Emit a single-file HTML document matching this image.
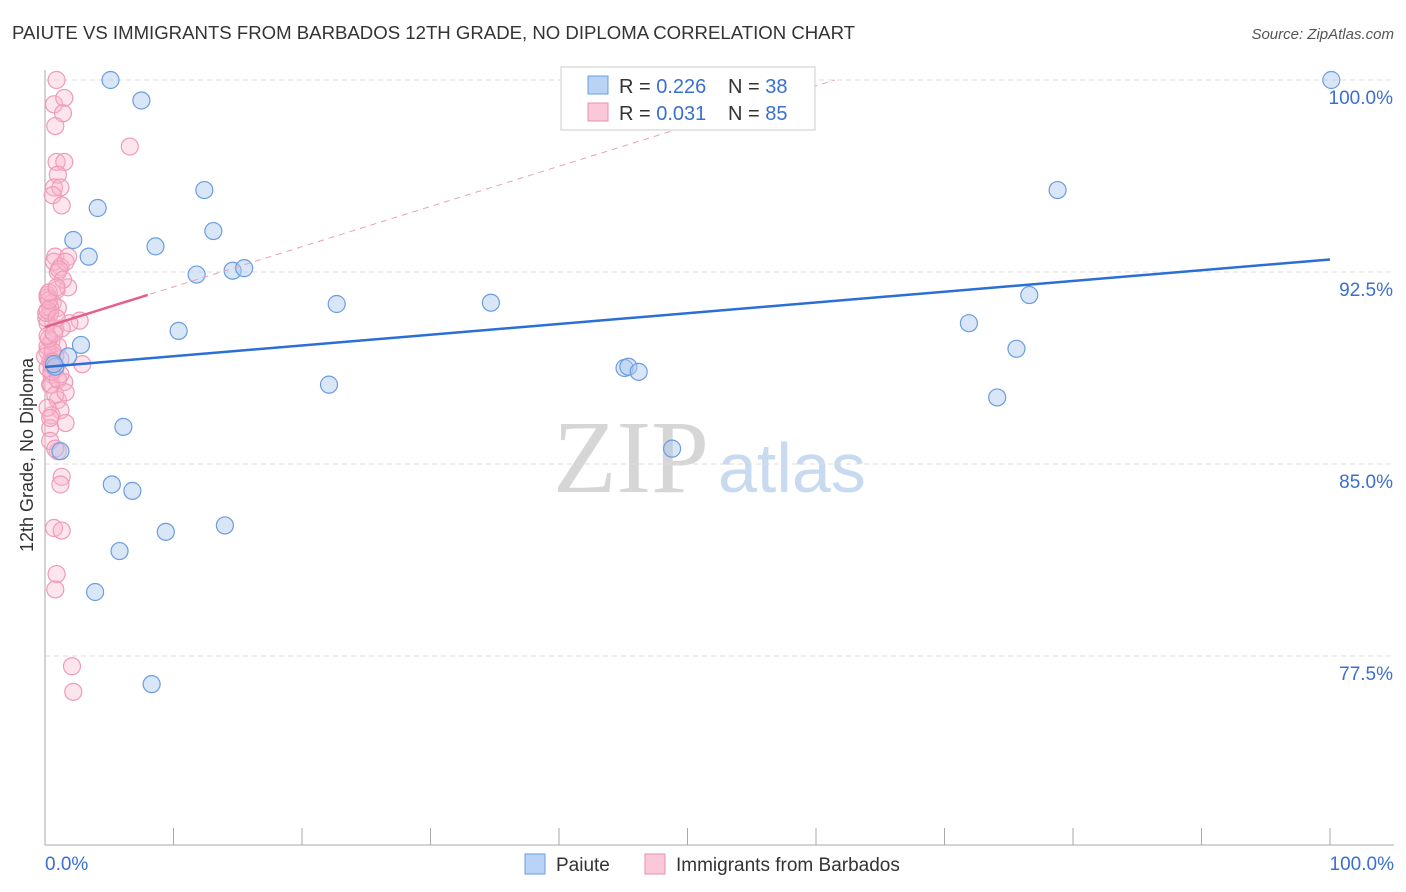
<!DOCTYPE html>
<html><head><meta charset="utf-8"><style>
body{margin:0;background:#fff;font-family:"Liberation Sans",sans-serif;}
#c{position:absolute;left:0;top:0;}
</style></head><body>
<svg id="c" width="1406" height="892" xmlns="http://www.w3.org/2000/svg">
<text x="12" y="39" font-size="18.6" fill="#333">PAIUTE VS IMMIGRANTS FROM BARBADOS 12TH GRADE, NO DIPLOMA CORRELATION CHART</text>
<text x="1394" y="39" font-size="15" fill="#555" text-anchor="end" font-style="italic">Source: ZipAtlas.com</text>
<text x="33" y="455" font-size="18" fill="#333" text-anchor="middle" transform="rotate(-90 33 455)">12th Grade, No Diploma</text>
<text x="553" y="492" font-size="104" fill="#d6d6d6" font-family="Liberation Serif,serif">ZIP</text>
<text x="718" y="492" font-size="70" fill="#c8daf0">atlas</text>
<g id="grid"></g><g id="pts"></g><g id="lines"></g>
<g>
<rect x="561" y="67" width="254" height="63" fill="#fff" stroke="#ccc"/>
<rect x="588" y="76" width="20" height="18" fill="#b8d3f5" stroke="#6a9de0"/>
<rect x="588" y="103" width="20" height="18" fill="#fac8d8" stroke="#e890ae"/>
<text x="619" y="93" font-size="20" fill="#333">R = <tspan fill="#3a6fd0">0.226</tspan></text>
<text x="728" y="93" font-size="20" fill="#333">N = <tspan fill="#3a6fd0">38</tspan></text>
<text x="619" y="120" font-size="20" fill="#333">R = <tspan fill="#3a6fd0">0.031</tspan></text>
<text x="728" y="120" font-size="20" fill="#333">N = <tspan fill="#3a6fd0">85</tspan></text>
</g>
<g>
<rect x="525" y="854" width="20" height="20" fill="#b8d3f5" stroke="#6a9de0"/>
<text x="556" y="871" font-size="19" fill="#333">Paiute</text>
<rect x="645" y="854" width="20" height="20" fill="#fac8d8" stroke="#e890ae"/>
<text x="676" y="871" font-size="19" fill="#333">Immigrants from Barbados</text>
</g>
</svg>
<script>
const yTicks=[100,92.5,85,77.5];
const yTickLabels=["100.0%","92.5%","85.0%","77.5%"];
const xTickLabels=["0.0%","100.0%"];
const blueX=[5.1,7.5,12.4,4.1,13.1,2.2,8.6,3.4,11.8,14.6,15.5,22.7,34.7,10.4,2.8,1.8,0.8,22.1,6.1,1.2,5.2,6.8,9.4,14.0,5.8,3.9,8.3,45.1,45.4,46.2,48.8,100.1,78.8,76.6,71.9,75.6,74.1,0.7];
const blueY=[100,99.2,95.7,95.0,94.1,93.75,93.5,93.1,92.4,92.55,92.65,91.25,91.3,90.2,89.65,89.2,88.8,88.1,86.45,85.5,84.2,83.95,82.35,82.6,81.6,80.0,76.4,88.75,88.8,88.6,85.6,100,95.7,91.6,90.5,89.5,87.6,88.9];
const pinkX=[0.9,0.7,1.5,1.4,0.8,6.6,0.9,1.5,1.0,0.7,1.2,0.6,1.3,0.8,1.8,1.2,0.7,1.0,1.6,0.9,1.8,0.2,0.6,1.0,0.4,0.2,0.8,2.7,1.9,0.5,1.0,0.2,0.8,0.4,1.2,0.2,0.5,0.8,2.9,1.5,0.4,1.0,1.2,0.5,1.6,0.4,1.0,1.3,1.2,0.7,1.3,0.9,0.8,2.1,2.2,0.2,0.1,0.4,1.3,0.2,0.0,0.5,0.1,0.8,0.2,0.4,0.8,1.2,0.2,0.6,0.3,1.1,0.5,0.9,0.3,1.4,0.6,0.2,1.0,0.4,0.7,0.3,1.6,0.5,0.9];
const pinkY=[100,99.05,99.3,98.7,98.2,97.4,96.8,96.8,96.3,95.8,95.8,95.5,95.1,93.1,93.1,92.7,92.9,92.5,92.9,91.8,91.9,91.6,91.3,91.1,90.9,90.5,90.3,90.6,90.5,89.8,89.6,89.4,89.2,89.0,89.1,88.75,88.5,88.7,88.9,88.2,88.1,87.5,87.1,86.9,86.6,86.4,85.5,84.5,84.2,82.5,82.4,80.7,80.1,77.1,76.1,91.5,90.7,91.1,90.3,89.6,89.2,88.1,90.9,87.7,87.2,85.9,85.6,88.5,91.0,89.4,91.4,92.6,88.6,90.7,89.9,92.2,89.0,90.0,88.3,86.8,90.1,91.7,87.8,88.9,91.9];
const blueTrend=[88.79,92.99];
const pinkTrend=[90.35,8.0];
const X=v=>45+v/100*1285, Y=v=>80+(100-v)/7.5*192;
const NS="http://www.w3.org/2000/svg";
function mk(t,a,p){const e=document.createElementNS(NS,t);for(const k in a)e.setAttribute(k,a[k]);document.getElementById(p).appendChild(e);return e;}
yTicks.forEach((t,i)=>{
 const l=mk('line',{x1:45,x2:1394,y1:Y(t),y2:Y(t),stroke:'#ddd','stroke-dasharray':'5,4'},'grid');
 
 
 const tx=mk('text',{x:1393,y:Y(t)+24,'font-size':19,fill:'#3a6fd0','text-anchor':'end'},'grid');tx.textContent=yTickLabels[i];
 
 
});
const ax=mk('line',{x1:45,x2:45,y1:70,y2:845,stroke:'#aaa'},'grid');


const bx=mk('line',{x1:45,x2:1394,y1:845,y2:845,stroke:'#aaa'},'grid');


for(let i=0;i<=10;i++){const t=mk('line',{x1:X(i*10),x2:X(i*10),y1:828,y2:845,stroke:'#aaa'},'grid');
 
 }
[[0,'start',45],[100,'end',1394]].forEach((d,i)=>{const t=mk('text',{x:d[2],y:870,'font-size':19,fill:'#3a6fd0','text-anchor':d[1]},'grid');t.textContent=xTickLabels[i];
 
 });
pinkX.forEach((x,i)=>{const c=mk('circle',{cx:X(x),cy:Y(pinkY[i]),r:8.5,fill:'rgba(248,180,204,0.35)',stroke:'#ee9ab8','stroke-width':1.2},'pts');
 
 });
blueX.forEach((x,i)=>{const c=mk('circle',{cx:X(x),cy:Y(blueY[i]),r:8.5,fill:'rgba(170,200,240,0.45)',stroke:'#6a9de0','stroke-width':1.2},'pts');
 
 });
const bl=mk('line',{x1:X(0),y1:Y(blueTrend[0]),x2:X(100),y2:Y(blueTrend[1]),stroke:'#2a6fd6','stroke-width':2.5},'lines');


const slope=0.157;
const pEnd=(100-pinkTrend[0])/slope;
const pd=mk('line',{x1:X(0),y1:Y(pinkTrend[0]),x2:X(pEnd),y2:Y(100),stroke:'#eaa0ba','stroke-width':1,'stroke-dasharray':'6,5'},'lines');


const ps=mk('line',{x1:X(0),y1:Y(pinkTrend[0]),x2:X(pinkTrend[1]),y2:Y(pinkTrend[0]+slope*pinkTrend[1]),stroke:'#e4608a','stroke-width':2.5},'lines');


</script>
</body></html>
